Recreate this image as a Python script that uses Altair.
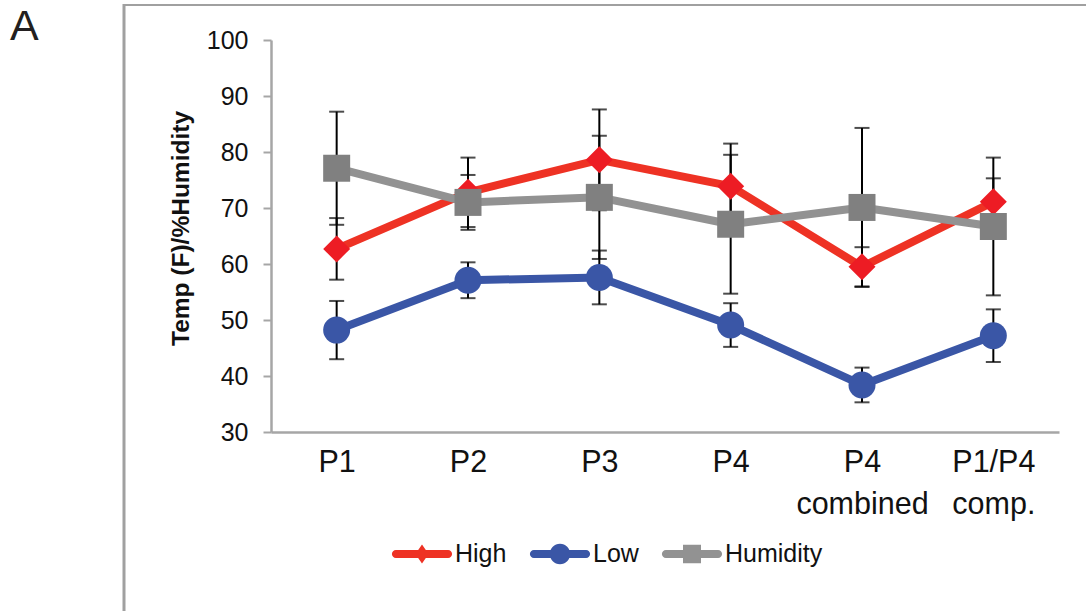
import altair as alt
import pandas as pd

# Sampling sites and the three measured series
categories = ["P1", "P2", "P3", "P4", "P4 combined", "P1/P4 comp."]
series_names = ["High", "Low", "Humidity"]

high_mean = [62.7, 72.8, 78.6, 73.9, 59.5, 71.1]
high_err = [5.5, 6.2, 9.0, 7.6, 3.5, 4.2]
low_mean = [48.2, 57.1, 57.6, 49.1, 38.4, 47.2]
low_err = [5.2, 3.2, 4.8, 3.9, 3.1, 4.7]
hum_mean = [77.1, 71.0, 71.9, 67.1, 70.1, 66.7]
hum_err = [10.1, 4.9, 11.0, 12.4, 14.2, 12.3]

line_colors = ["#EE3224", "#3A56A6", "#929292"]
marker_colors = ["#ED1C24", "#3A56A6", "#808080"]
marker_shapes = ["diamond", "circle", "square"]

# Legend glyphs: a rounded line segment with the series marker on top
legend_paths = [
    "M-0.87,-0.133 L0.87,-0.133 A0.133,0.133 0 0 1 0.87,0.133 L-0.87,0.133 "
    "A0.133,0.133 0 0 1 -0.87,-0.133 Z M0,-0.32 L0.22,0 L0,0.32 L-0.22,0 Z",
    "M-0.87,-0.133 L0.87,-0.133 A0.133,0.133 0 0 1 0.87,0.133 L-0.87,0.133 "
    "A0.133,0.133 0 0 1 -0.87,-0.133 Z M0,-0.34 A0.34,0.34 0 1 1 0,0.34 "
    "A0.34,0.34 0 1 1 0,-0.34 Z",
    "M-0.87,-0.133 L0.87,-0.133 A0.133,0.133 0 0 1 0.87,0.133 L-0.87,0.133 "
    "A0.133,0.133 0 0 1 -0.87,-0.133 Z M-0.3,-0.31 L0.3,-0.31 L0.3,0.31 "
    "L-0.3,0.31 Z",
]

rows = []
for name, means, errs in zip(series_names,
                             [high_mean, low_mean, hum_mean],
                             [high_err, low_err, hum_err]):
    for cat, m, e in zip(categories, means, errs):
        rows.append({"category": cat, "series": name, "mean": m,
                     "lo": m - e, "hi": m + e})
df = pd.DataFrame(rows)

FONT = "Liberation Sans"
AXIS_GREY = "#A6A6A6"

x_enc = alt.X(
    "category:N", sort=categories,
    scale=alt.Scale(type="point", padding=0.5),
    axis=alt.Axis(
        title=None, labelAngle=0, ticks=False,
        labelExpr="split(datum.label, ' ')",
        labelFont=FONT, labelFontSize=30.5, labelLineHeight=42,
        labelColor="#111111", labelPadding=15,
        domainColor=AXIS_GREY, domainWidth=2.5,
    ),
)
y_scale = alt.Scale(domain=[30, 100], nice=False)
y_enc = alt.Y(
    "mean:Q", scale=y_scale,
    axis=alt.Axis(
        values=list(range(30, 101, 10)), grid=False,
        domainColor=AXIS_GREY, domainWidth=2.5,
        tickColor=AXIS_GREY, tickWidth=2, tickSize=8,
        labelFont=FONT, labelFontSize=25, labelColor="#111111",
        labelPadding=15,
        title="Temp (F)/%Humidity", titleFont=FONT, titleFontSize=24.5,
        titleFontWeight="bold", titleColor="#111111",
        titleAngle=270, titleX=-90, titleY=188,
        titleAlign="center", titleBaseline="middle",
    ),
)

base = alt.Chart(df)

lines = [
    base.transform_filter(alt.datum.series == s)
    .mark_line(color=c, strokeWidth=8, strokeJoin="round", strokeCap="round")
    .encode(x=x_enc, y=y_enc)
    for s, c in zip(series_names, line_colors)
]

err_rules = base.mark_rule(color="black", strokeWidth=2).encode(
    x=alt.X("category:N", sort=categories),
    y=alt.Y("lo:Q", scale=y_scale),
    y2="hi:Q",
)
caps_lo = base.mark_tick(color="black", thickness=2, size=15).encode(
    x=alt.X("category:N", sort=categories), y=alt.Y("lo:Q", scale=y_scale)
)
caps_hi = base.mark_tick(color="black", thickness=2, size=15).encode(
    x=alt.X("category:N", sort=categories), y=alt.Y("hi:Q", scale=y_scale)
)

markers = [
    base.transform_filter(alt.datum.series == s)
    .mark_point(shape=sh, filled=True, size=729, color=c, opacity=1)
    .encode(x=alt.X("category:N", sort=categories),
            y=alt.Y("mean:Q", scale=y_scale))
    for s, c, sh in zip(series_names, marker_colors, marker_shapes)
]

legend_def = alt.Legend(
    title=None, orient="none", direction="horizontal",
    legendX=121, legendY=484, padding=0,
    labelFont=FONT, labelFontSize=25, labelColor="#111111",
    labelOffset=3, columnPadding=22, symbolSize=3600,
    symbolStrokeWidth=0, symbolOpacity=1,
)
legend_layer = (
    base.transform_filter("false")
    .mark_point(filled=True, size=3600, opacity=1)
    .encode(
        x=alt.X("category:N", sort=categories),
        y=alt.Y("mean:Q", scale=y_scale),
        color=alt.Color("series:N",
                        scale=alt.Scale(domain=series_names, range=line_colors),
                        legend=legend_def),
        shape=alt.Shape("series:N",
                        scale=alt.Scale(domain=series_names, range=legend_paths),
                        legend=legend_def),
    )
)

one = alt.Data(values=[{}])
panel_left = alt.Chart(one).mark_rule(color="#A0A0A0", strokeWidth=3).encode(
    x=alt.value(-147), y=alt.value(-36), y2=alt.value(580)
)
panel_top = alt.Chart(one).mark_rule(color="#A0A0A0", strokeWidth=2).encode(
    x=alt.value(-148), x2=alt.value(830), y=alt.value(-35)
)
panel_letter = alt.Chart(one).mark_text(
    text="A", font=FONT, fontSize=43, color="#231F20",
    align="left", baseline="alphabetic",
).encode(x=alt.value(-261), y=alt.value(0))

chart = alt.layer(
    *lines, err_rules, caps_lo, caps_hi, *markers, legend_layer,
    panel_left, panel_top, panel_letter,
).properties(
    width=788, height=392,
    padding={"left": 271, "top": 40, "right": 27, "bottom": 179},
    autosize=alt.AutoSizeParams(type="none"),
    background="white",
).configure_view(stroke=None)

chart.save("out.html", embed_options={"renderer": "svg", "actions": False})
